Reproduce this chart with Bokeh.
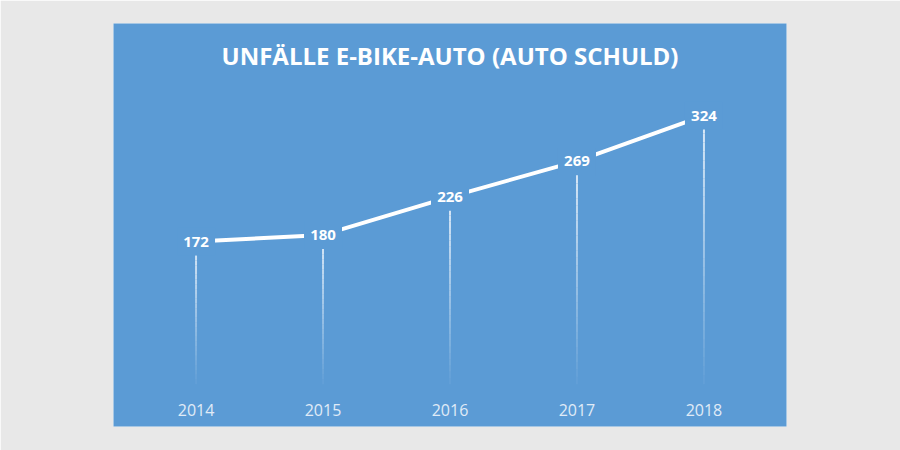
import numpy as np
from bokeh.plotting import figure
from bokeh.models import Label, Range1d, FactorRange
from bokeh.core.properties import value
from bokeh.embed import file_html
from bokeh.resources import INLINE

years = ["2014", "2015", "2016", "2017", "2018"]
values = [172, 180, 226, 269, 324]
title_text = "UNFÄLLE E-BIKE-AUTO (AUTO SCHULD)"

BLUE = "#5b9bd5"
GRAY = "#e8e8e8"
FONT = "Open Sans"

p = figure(
    width=900, height=450,
    x_range=FactorRange(*years, range_padding=0.15, range_padding_units="absolute"),
    y_range=Range1d(-51, 435),
    output_backend="svg", toolbar_location=None,
    min_border_left=113, min_border_right=114, min_border_top=23, min_border_bottom=24,
    background_fill_color=BLUE, border_fill_color=GRAY,
)
p.outline_line_color = None
p.grid.visible = False
p.yaxis.visible = False

ax = p.xaxis[0]
ax.fixed_location = 0
ax.axis_line_color = None
ax.major_tick_line_color = None
ax.minor_tick_line_color = None
ax.major_label_standoff = 14
ax.major_label_text_color = "#e0ebf7"
ax.major_label_text_font = FONT
ax.major_label_text_font_size = "16px"

# fading drop lines
n = 30
sx, sy0, sy1, sa = [], [], [], []
for yr, v in zip(years, values):
    edges = np.linspace(v, 0, n + 1)
    for i in range(n):
        sx.append(yr)
        sy0.append(edges[i])
        sy1.append(edges[i + 1])
        sa.append(0.9 * (1 - i / n) + 0.02)
p.segment(x0=sx, y0=sy0, x1=sx, y1=sy1, line_color="#e6f0fa", line_alpha=sa,
          line_width=2, line_cap="butt")

p.line(years, values, line_color="white", line_width=4)

# label backgrounds
p.rect(x=years, y=values, width=38, height=28, width_units="screen", height_units="screen",
       fill_color=BLUE, line_color=None)
p.text(x=years, y=values, text=[str(v) for v in values], text_align="center",
       text_baseline="middle", text_color="white", text_font=value(FONT),
       text_font_style="bold", text_font_size="15px")

p.add_layout(Label(x=2.5, y=397, text=title_text, text_align="center", text_baseline="middle",
                   text_color="white", text_font=FONT, text_font_style="bold",
                   text_font_size="24px"))

open("out.html", "w").write(file_html(p, INLINE))
